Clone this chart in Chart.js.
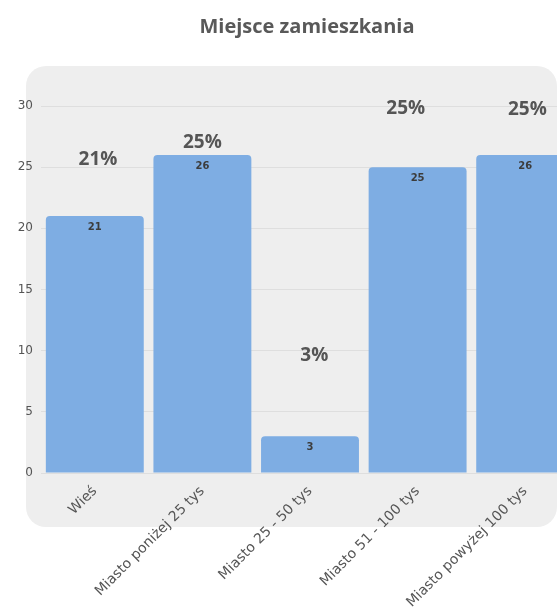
<!DOCTYPE html>
<html lang="pl">
<head>
<meta charset="utf-8">
<title>Miejsce zamieszkania</title>
<script src="https://cdn.jsdelivr.net/npm/chart.js@4/dist/chart.umd.min.js"></script>
<style>
  html, body { margin: 0; padding: 0; background: #ffffff; overflow: hidden; }
  #wrap { position: absolute; left: 0; top: 0; width: 614px; height: 608px; }
</style>
</head>
<body>
<div id="wrap"><canvas id="chart"></canvas></div>
<script>
// Place of residence: respondents per category
const chartTitle = 'Miejsce zamieszkania';
const categories = ['Wieś', 'Miasto poniżej 25 tys', 'Miasto 25 - 50 tys', 'Miasto 51 - 100 tys', 'Miasto powyżej 100 tys'];
const counts = [21, 26, 3, 25, 26];
const percentLabels = ['21%', '25%', '3%', '25%', '25%'];
const yTicks = [0, 5, 10, 15, 20, 25, 30];

// where each percentage caption sits: [x shift in category widths, level in axis units]
const captionPlacement = [[0.03, 25.6], [0, 27.0], [0.04, 9.6], [-0.11, 29.8], [0.02, 29.7]];

const axisFont = "'DejaVu Sans', 'Noto Sans', sans-serif";
const captionFont = "'Open Sans', 'Liberation Sans', sans-serif";

// rounded grey card behind the plot, title above it
const panelPlugin = {
  id: 'panel',
  beforeDraw(chart) {
    const { ctx, chartArea: a } = chart;
    const x = a.left - 15, y = a.top - 40, w = 557 - x, h = (a.bottom + 54) - y;
    ctx.save();
    ctx.fillStyle = '#eeeeee';
    ctx.beginPath();
    ctx.roundRect(x, y, w, h, 20);
    ctx.fill();
    ctx.font = "bold 20px " + captionFont;
    ctx.fillStyle = '#595959';
    ctx.textAlign = 'center';
    ctx.textBaseline = 'middle';
    ctx.fillText(chartTitle, 307, 27);
    ctx.restore();
  }
};

const labelsPlugin = {
  id: 'barLabels',
  afterDatasetsDraw(chart) {
    const { ctx } = chart;
    const xs = chart.scales.x, ys = chart.scales.y;
    const meta = chart.getDatasetMeta(0);
    ctx.save();
    // value inside the top of each bar
    ctx.font = "bold 10px " + axisFont;
    ctx.fillStyle = '#3c3c3c';
    ctx.textAlign = 'center';
    ctx.textBaseline = 'middle';
    meta.data.forEach((bar, i) => {
      ctx.fillText(String(counts[i]), bar.x, bar.y + 11);
    });
    // percentage captions
    ctx.font = "bold 19px " + captionFont;
    ctx.fillStyle = '#555555';
    const step = xs.getPixelForValue(1) - xs.getPixelForValue(0);
    percentLabels.forEach((t, i) => {
      const [dx, lvl] = captionPlacement[i];
      ctx.fillText(t, xs.getPixelForValue(i) + dx * step, ys.getPixelForValue(lvl));
    });
    ctx.restore();
  }
};

new Chart(document.getElementById('chart'), {
  type: 'bar',
  data: {
    labels: categories,
    datasets: [{
      data: counts,
      backgroundColor: '#7eade3',
      borderRadius: { topLeft: 4, topRight: 4, bottomLeft: 0, bottomRight: 0 },
      borderSkipped: 'bottom',
      barPercentage: 0.91,
      categoryPercentage: 1.0
    }]
  },
  options: {
    responsive: true,
    maintainAspectRatio: false,
    animation: false,
    layout: { padding: { left: 0, right: 35, top: 106, bottom: 0 } },
    plugins: {
      legend: { display: false },
      tooltip: { enabled: false },
      title: { display: false }
    },
    scales: {
      x: {
        grid: { display: false, drawTicks: false },
        border: { display: false },
        ticks: {
          color: '#555555',
          font: { family: axisFont, size: 14 },
          minRotation: 45,
          maxRotation: 45,
          padding: 10
        },
        afterFit(scale) { scale.height = 135; }
      },
      y: {
        min: 0,
        max: 30,
        afterBuildTicks(scale) { scale.ticks = yTicks.map(v => ({ value: v })); },
        grid: { color: '#dedede', drawTicks: false, lineWidth: 1 },
        border: { display: false },
        ticks: {
          color: '#555555',
          font: { family: axisFont, size: 12 },
          padding: 8
        },
        afterFit(scale) { scale.width = 41; }
      }
    }
  },
  plugins: [panelPlugin, labelsPlugin]
});
</script>
</body>
</html>
